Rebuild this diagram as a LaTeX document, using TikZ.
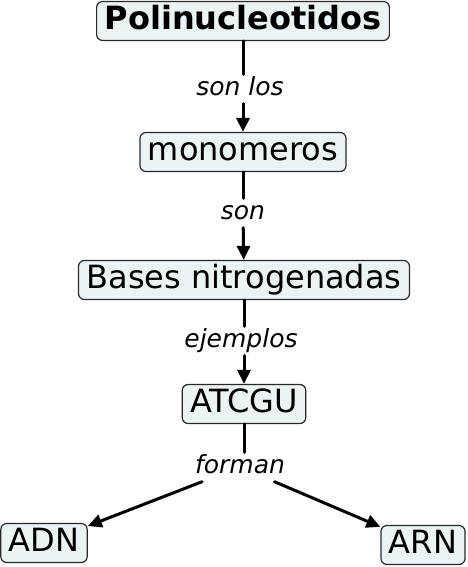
\documentclass[tikz,border=0pt]{standalone}
\usepackage{fontspec}
\setmainfont{DejaVu Sans}
\usetikzlibrary{arrows.meta}
\definecolor{conceptfill}{RGB}{236,243,245}
\definecolor{conceptdraw}{RGB}{40,40,40}

\begin{document}
\begin{tikzpicture}[x=1pt, y=-1pt, line cap=round, line join=round, >={Triangle[length=14pt,width=13pt]}]
  \tikzset{
    concept/.style={draw=conceptdraw, line width=1.2pt, fill=conceptfill, rounded corners=6pt, inner xsep=8pt, inner ysep=5pt,
      text height=23pt, text depth=6pt, font=\fontsize{32}{34}\selectfont},
    link/.style={inner sep=3pt, text height=18pt, text depth=5pt, font=\fontsize{25}{28}\selectfont\itshape},
    conn/.style={line width=3pt}
  }
  \useasboundingbox (0,0) rectangle (467,567);
  %--- Concepts
    \node[concept] (PO) at (243,21) {\bfseries Polinucleotidos};
    \node[concept] (MO) at (243,152) {monomeros};
    \node[concept] (BN) at (244,280) {Bases nitrogenadas};
    \node[concept] (AT) at (244,404) {ATCGU};
    \node[concept] (ADN) at (44,543) {ADN};
    \node[concept] (ARN) at (423,545) {ARN};
  %--- Links
    \node[link] (sonlos) at (240,89) {son los};
    \node[link] (son) at (243,213) {son};
    \node[link] (ejemplos) at (241,341) {ejemplos};
    \node[link] (forman) at (240,467) {forman};
  %--- Arrows
    \draw[conn] (PO) -- (PO |- sonlos.north);
    \draw[conn,->] (MO |- sonlos.south) -- (MO);
    \draw[conn] (MO) -- (son);
    \draw[conn,->] (son) -- (BN);
    \draw[conn] (BN) -- (BN |- ejemplos.north);
    \draw[conn,->] (AT |- ejemplos.south) -- (AT);
    \draw[conn] (AT) -- (AT |- forman.north);
    \draw[conn,->] (forman) -- (ADN);
    \draw[conn,->] (forman) -- (ARN);
  %---
\end{tikzpicture}
\end{document}
